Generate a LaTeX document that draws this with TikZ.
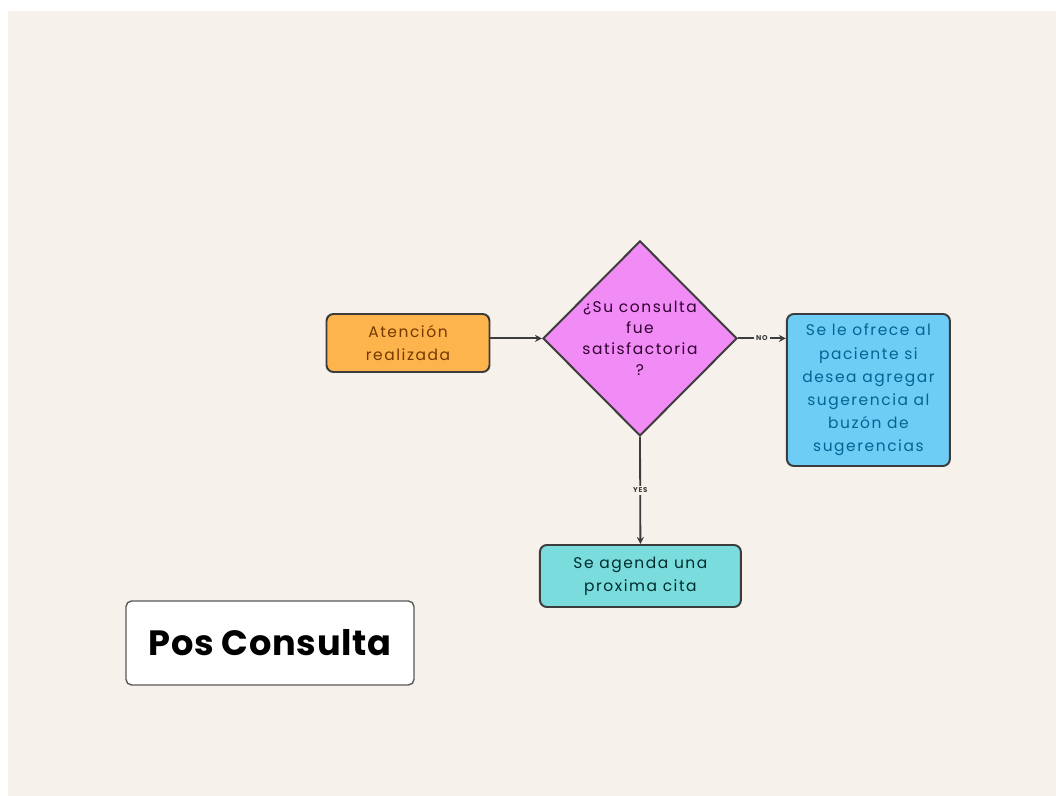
\documentclass[tikz,border=0pt]{standalone}
\usepackage{fontspec}
\setmainfont[LetterSpace=10]{Poppins}
\usetikzlibrary{arrows.meta}
\usetikzlibrary{shapes}

\definecolor{bgbeige}{RGB}{246,241,234}
\definecolor{boxorange}{RGB}{253,180,76}
\definecolor{boxviolet}{RGB}{241,140,246}
\definecolor{boxblue}{RGB}{110,205,245}
\definecolor{boxteal}{RGB}{122,220,220}
\definecolor{linegray}{RGB}{60,60,60}

\begin{document}
\begin{tikzpicture}[line width=1.4pt,
        box_style/.style={rectangle,rounded corners=5pt,draw=linegray,align=center,inner sep=0pt,font=\fontsize{11}{16.5}\selectfont},
        dec_style/.style={diamond,draw=linegray,fill=boxviolet,inner sep=0pt,minimum width=4.85cm,minimum height=4.875cm},
        dec_text/.style={align=center,text=black!60!violet,font=\fontsize{11}{15}\selectfont},
        title_style/.style={rectangle,rounded corners=4pt,draw=black!65,line width=1pt,fill=white,font=\fontsize{25}{29}\selectfont\bfseries\addfontfeature{LetterSpace=2}},
        edge_style/.style={draw=linegray,line width=1.3pt,-{Stealth[length=5pt,width=5pt]}},
        tag_style/.style={fill=bgbeige,inner sep=1.5pt,font=\fontsize{5}{5}\selectfont\bfseries,text=linegray}]

        \useasboundingbox (0,0) rectangle (26.4,-19.9);
        \fill [white] (0,0) rectangle (26.4,-19.9);
        \fill [bgbeige] (0.2,-0.275) rectangle (26.4,-19.9);

        \node [box_style,fill=boxorange,text=black!55!orange,minimum width=4.075cm,minimum height=1.45cm](n1) at (10.2,-8.575) {Atención\\realizada};
        \node [dec_style,label={[dec_text]center:{¿Su consulta\\fue\\satisfactoria\\?}}](n2) at (16.0,-8.46) {};
        \node [box_style,fill=boxblue,text=black!70!blue!60!cyan,minimum width=4.075cm,minimum height=3.8cm](n3) at (21.71,-9.75) {Se le ofrece al\\paciente si\\desea agregar\\sugerencia al\\buzón de\\sugerencias};
        \node [box_style,fill=boxteal,text=black!65!teal,minimum width=5.025cm,minimum height=1.55cm](n4) at (16.01,-14.4) {Se agenda una\\proxima cita};
        \node [title_style,minimum width=7.2cm,minimum height=2.1cm](n5) at (6.75,-16.075) {Pos Consulta};

        \draw [edge_style] (n1.east |- n2) -- (n2.west);
        \draw [edge_style] (n2.east) -- node[tag_style,midway]{NO} (n2.east -| n3.west);
        \draw [edge_style] (n2.south) -- node[tag_style,midway]{YES} (n4.north);
\end{tikzpicture}
\end{document}
